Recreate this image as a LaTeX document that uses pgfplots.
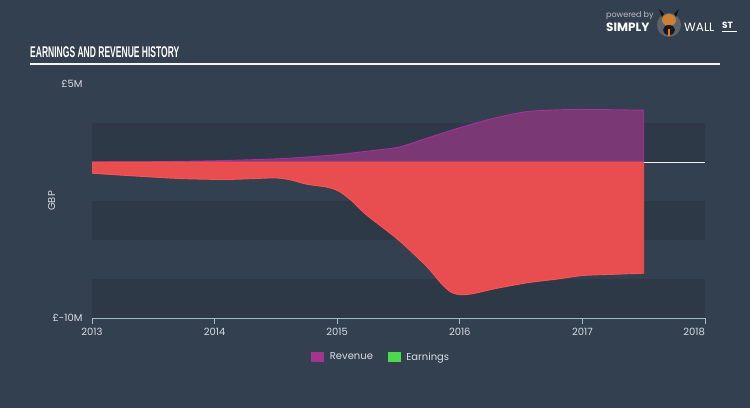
\documentclass[border=0pt]{standalone}
\usepackage{pgfplots}
\pgfplotsset{compat=1.18}
\usepackage{fontspec}
\setmainfont{Poppins}
\newfontfamily\titlefont[FakeStretch=0.55]{Liberation Sans}
\newfontfamily\logofont{Poppins}
\definecolor{bg}{HTML}{334050}
\definecolor{band}{HTML}{2D3947}
\definecolor{txt}{HTML}{D8DDE2}
\definecolor{axisc}{HTML}{A9B8C8}
\definecolor{revfill}{HTML}{7A3874}
\definecolor{revline}{HTML}{A8309E}
\definecolor{earnfill}{HTML}{E84D50}
\definecolor{earnline}{HTML}{FF5252}
\definecolor{legrev}{HTML}{A3358F}
\definecolor{legearn}{HTML}{4CD94C}
\begin{document}
\begin{tikzpicture}
\path[use as bounding box] (0pt,0pt) rectangle (750pt,408pt);
\fill[bg] (0pt,0pt) rectangle (750pt,408pt);
% title
\node[anchor=base west, inner sep=0pt, text=white, font=\titlefont\bfseries\fontsize{15.5}{15.5}\selectfont] at (30pt,350pt) {EARNINGS AND REVENUE HISTORY};
\draw[white!85!axisc, line width=1.2pt] (30pt,344pt) -- (720pt,344pt);
% logo
\node[anchor=base west, inner sep=0pt, text=txt!80!bg, font=\logofont\fontsize{8}{8}\selectfont] at (606pt,390pt) {powered by};
\node[anchor=base west, inner sep=0pt, text=white, font=\logofont\bfseries\fontsize{12}{12}\selectfont] at (606pt,376pt) {SIMPLY};
\fill[gray!55!bg] (669pt,383pt) circle (12pt);
\fill[black!70!bg] (662pt,391pt) -- (659pt,399pt) -- (664pt,394pt) -- cycle;
\fill[black!70!bg] (676pt,391pt) -- (679pt,399pt) -- (674pt,394pt) -- cycle;
\fill[brown!80!orange] (669pt,388pt) ellipse (7pt and 6pt);
\fill[black!60!bg] (669pt,378pt) ellipse (6pt and 5pt);
\fill[orange!90!red] (668pt,372pt) rectangle (670pt,379pt);
\node[anchor=base west, inner sep=0pt, text=white, font=\logofont\fontsize{12}{12}\selectfont] at (684pt,376pt) {WALL};
\node[anchor=base west, inner sep=0pt, text=white, font=\logofont\bfseries\fontsize{9}{9}\selectfont] at (722pt,379pt) {ST};
\draw[white, line width=0.8pt] (722pt,376.5pt) -- (737pt,376.5pt);
\begin{axis}[
  at={(92pt,90pt)}, anchor=south west,
  scale only axis, width=613pt, height=234pt,
  xmin=2013, xmax=2018, ymin=-10, ymax=5,
  axis x line*=bottom, axis y line*=left,
  x axis line style={axisc, line width=0.9pt},
  y axis line style={draw=none},
  xtick={2013,2014,2015,2016,2017,2018},
  xticklabels={2013,2014,2015,2016,2017,\makebox[0pt][r]{2018}},
  xtick align=outside, major tick length=6pt,
  xtick style={axisc, line width=0.9pt},
  ytick={-10,5}, yticklabels={£-10M,£5M},
  ytick style={draw=none},
  tick label style={text=txt, font=\fontsize{10}{10}\selectfont},
  /pgf/number format/assume math mode=true,
  xticklabel style={yshift=-0.5pt},
  yticklabel style={xshift=-6pt},
  ylabel={GBP},
  every axis y label/.style={at={(axis description cs:-0.066,0.5)}, rotate=90, anchor=center, text=txt, font=\fontsize{10}{10}\selectfont},
  legend style={at={(axis description cs:0.472,-0.167)}, anchor=center, draw=none, fill=none, text=txt, font=\fontsize{10}{10}\selectfont, legend columns=2, /tikz/every odd column/.append style={column sep=4pt}, /tikz/every even column/.append style={column sep=13pt}},
  legend image code/.code={\fill[#1] (0pt,-4.5pt) rectangle (12pt,5pt);},
]
% bands
\addplot[draw=none, fill=band, forget plot] coordinates {(2013,0) (2018,0) (2018,2.5) (2013,2.5)} -- cycle;
\addplot[draw=none, fill=band, forget plot] coordinates {(2013,-5) (2018,-5) (2018,-2.5) (2013,-2.5)} -- cycle;
\addplot[draw=none, fill=band, forget plot] coordinates {(2013,-10) (2018,-10) (2018,-7.5) (2013,-7.5)} -- cycle;
% zero line
\addplot[white!80!axisc, line width=1pt, forget plot] coordinates {(2013,0) (2018,0)};
\addplot[revline, fill=revfill, line width=0.9pt, smooth, tension=0.5, forget plot] coordinates {
(2013,0) (2013.5,0.02) (2014,0.08) (2014.5,0.2) (2014.75,0.32) (2015,0.47) (2015.24,0.69) (2015.5,0.95) (2015.7,1.45) (2016,2.2) (2016.25,2.75) (2016.45,3.1) (2016.6,3.27) (2016.95,3.37) (2017.5,3.32)} \closedcycle;
\addplot[earnline, fill=earnfill, line width=0.9pt, smooth, tension=0.5, forget plot] coordinates {
(2013,-0.72) (2013.4,-0.92) (2013.72,-1.06) (2014.07,-1.12) (2014.3,-1.07) (2014.5,-1.02) (2014.62,-1.15) (2014.75,-1.42) (2014.92,-1.62) (2015.02,-1.9) (2015.12,-2.5) (2015.24,-3.4) (2015.5,-5.0) (2015.73,-6.7) (2015.85,-7.8) (2015.93,-8.35) (2016.0,-8.5) (2016.1,-8.45) (2016.3,-8.1) (2016.57,-7.72) (2016.8,-7.5) (2017.0,-7.28) (2017.25,-7.2) (2017.5,-7.13)} \closedcycle;
\addlegendimage{legrev}
\addlegendentry{Revenue}
\addlegendimage{legearn}
\addlegendentry{Earnings}
\end{axis}
\end{tikzpicture}
\end{document}
